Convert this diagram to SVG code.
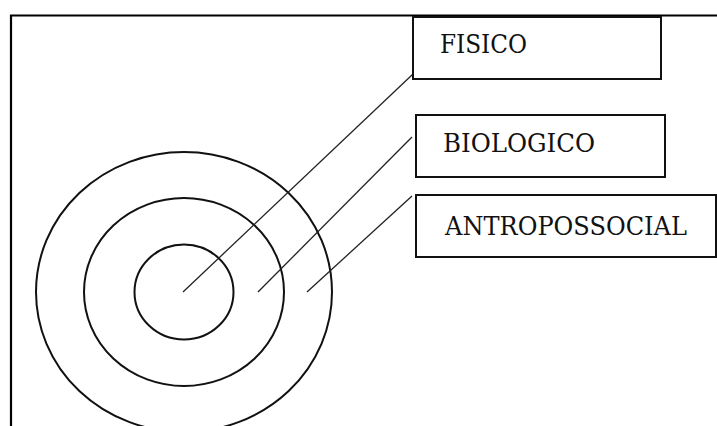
<svg xmlns="http://www.w3.org/2000/svg" width="717" height="426" viewBox="0 0 717 426">
<style>
.ring{fill:none;stroke:#111;stroke-width:2}
.box{fill:#fff;stroke:#111;stroke-width:2}
.lbl{font-family:"DejaVu Serif","Liberation Serif",serif;font-size:26px;fill:#111}
.conn{stroke:#222;stroke-width:1.3;fill:none}
</style>
<rect width="717" height="426" fill="#fff"/>
<path d="M11 426 V15.5 H717" fill="none" stroke="#000" stroke-width="2.2"/>
<g id="rings">
<ellipse class="ring" cx="184" cy="292" rx="148" ry="140"/>
<ellipse class="ring" cx="184" cy="292" rx="100" ry="94"/>
<ellipse class="ring" cx="184" cy="292" rx="49.5" ry="47.5"/>
</g>
<g id="connectors">
<line class="conn" x1="183" y1="292" x2="413" y2="74"/>
<line class="conn" x1="258" y1="292" x2="412" y2="137"/>
<line class="conn" x1="307" y1="292" x2="412" y2="196"/>
</g>
<g id="fisico">
<rect class="box" x="413" y="17" width="248" height="62"/>
<text class="lbl" x="440" y="53" textLength="87" lengthAdjust="spacingAndGlyphs">FISICO</text>
</g>
<g id="biologico">
<rect class="box" x="416" y="115" width="249" height="62"/>
<text class="lbl" x="443" y="152" textLength="152" lengthAdjust="spacingAndGlyphs">BIOLOGICO</text>
</g>
<g id="antropossocial">
<rect class="box" x="416" y="195" width="300" height="62"/>
<text class="lbl" x="445" y="235" textLength="242" lengthAdjust="spacingAndGlyphs">ANTROPOSSOCIAL</text>
</g>
</svg>
